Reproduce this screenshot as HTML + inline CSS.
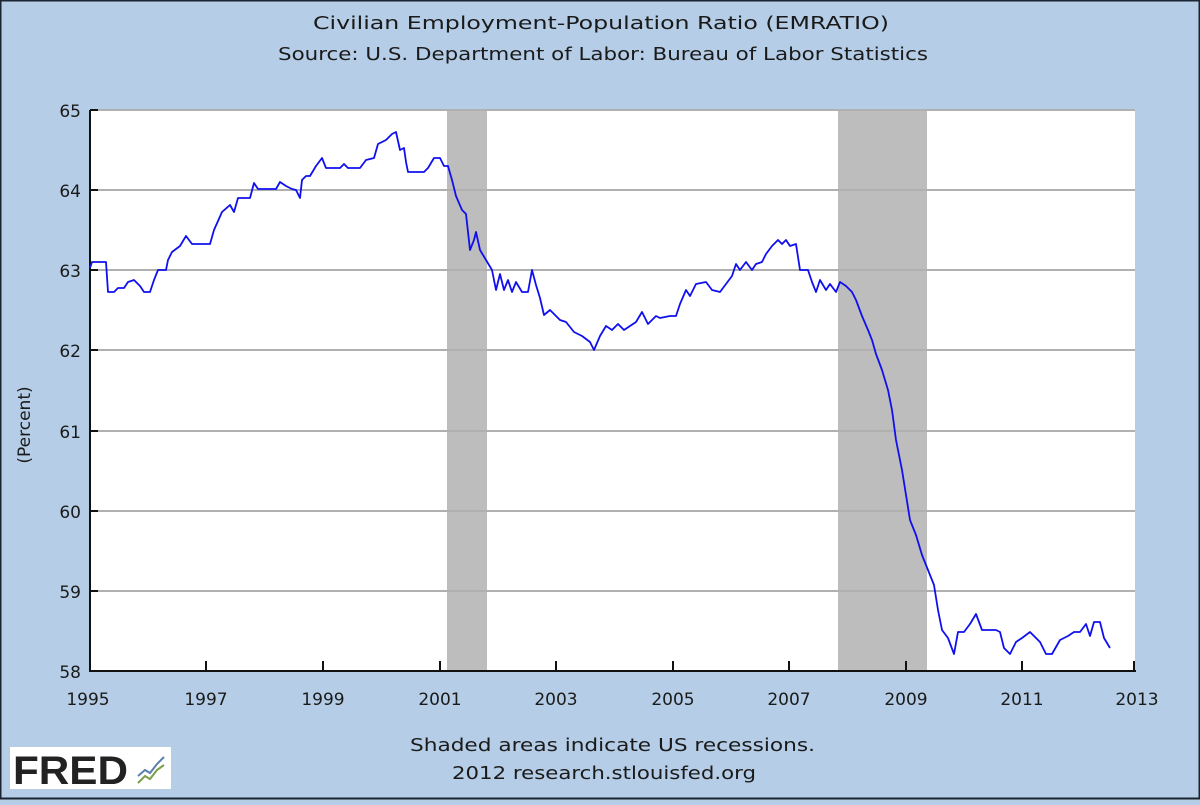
<!DOCTYPE html>
<html><head><style>
html,body{margin:0;padding:0}
body{width:1200px;height:800px;background:#b5cde6;overflow:hidden}
</style></head><body>
<svg width="1200" height="800" xmlns="http://www.w3.org/2000/svg" font-family="DejaVu Sans, sans-serif">
<rect x="0" y="0" width="1200" height="800" fill="#b5cde6"/>
<rect x="0.5" y="0.5" width="1199" height="798" fill="none" stroke="#1a2530" stroke-width="2"/>
<text x="313" y="29" font-size="18" textLength="576" lengthAdjust="spacingAndGlyphs" fill="#1a1a1a">Civilian Employment-Population Ratio (EMRATIO)</text>
<text x="278" y="60" font-size="18" textLength="650" lengthAdjust="spacingAndGlyphs" fill="#1a1a1a">Source: U.S. Department of Labor: Bureau of Labor Statistics</text>
<rect x="90" y="110" width="1045" height="561" fill="#ffffff"/>
<rect x="447" y="110" width="40" height="561" fill="#bdbdbd"/>
<rect x="838" y="110" width="89" height="561" fill="#bdbdbd"/>
<g stroke="#b0b0b0" stroke-width="2">
<line x1="90" y1="110" x2="1135" y2="110"/>
<line x1="90" y1="190" x2="1135" y2="190"/>
<line x1="90" y1="270" x2="1135" y2="270"/>
<line x1="90" y1="350" x2="1135" y2="350"/>
<line x1="90" y1="431" x2="1135" y2="431"/>
<line x1="90" y1="511" x2="1135" y2="511"/>
<line x1="90" y1="591" x2="1135" y2="591"/>
</g>
<g stroke="#111" stroke-width="2">
<line x1="90" y1="110" x2="90" y2="672"/>
<line x1="89" y1="671" x2="1136" y2="671"/>
<line x1="90" y1="110" x2="98" y2="110"/>
<line x1="90" y1="190" x2="98" y2="190"/>
<line x1="90" y1="270" x2="98" y2="270"/>
<line x1="90" y1="350" x2="98" y2="350"/>
<line x1="90" y1="431" x2="98" y2="431"/>
<line x1="90" y1="511" x2="98" y2="511"/>
<line x1="90" y1="591" x2="98" y2="591"/>
<line x1="206" y1="661" x2="206" y2="671"/>
<line x1="323" y1="661" x2="323" y2="671"/>
<line x1="440" y1="661" x2="440" y2="671"/>
<line x1="556" y1="661" x2="556" y2="671"/>
<line x1="673" y1="661" x2="673" y2="671"/>
<line x1="789" y1="661" x2="789" y2="671"/>
<line x1="906" y1="661" x2="906" y2="671"/>
<line x1="1022" y1="661" x2="1022" y2="671"/>
<line x1="1134" y1="661" x2="1134" y2="671"/>
</g>
<g font-size="17" fill="#1a1a1a" text-anchor="end">
<text x="81" y="117">65</text><text x="81" y="197">64</text><text x="81" y="277">63</text>
<text x="81" y="357">62</text><text x="81" y="438">61</text><text x="81" y="518">60</text>
<text x="81" y="598">59</text><text x="81" y="678">58</text>
</g>
<g font-size="17" fill="#1a1a1a" text-anchor="middle">
<text x="88" y="705">1995</text><text x="206" y="705">1997</text><text x="323" y="705">1999</text>
<text x="440" y="705">2001</text><text x="556" y="705">2003</text><text x="673" y="705">2005</text>
<text x="789" y="705">2007</text><text x="906" y="705">2009</text><text x="1022" y="705">2011</text>
<text x="1137" y="705">2013</text>
</g>
<text transform="translate(30,425) rotate(-90)" font-size="17" text-anchor="middle" fill="#1a1a1a">(Percent)</text>
<polyline fill="none" stroke="#1010ee" stroke-width="1.8" stroke-linejoin="round" points="90,268 92,262 106,262 108,292 114,292 118,288 124,288 128,282 134,280 140,286 144,292 150,292 154,280 158,270 166,270 168,260 172,252 180,246 186,236 192,244 210,244 214,230 222,212 230,205 234,212 238,198 250,198 254,183 258,189 276,189 280,182 286,186 292,189 296,190 300,198 302,180 306,176 310,176 316,166 322,158 326,168 340,168 344,164 348,168 360,168 366,160 374,158 378,144 386,140 392,134 396,132 400,150 404,148 406,162 408,172 424,172 428,168 434,158 440,158 444,166 448,166 452,180 456,196 462,210 466,214 470,250 474,240 476,232 480,250 486,260 492,270 496,290 500,274 504,290 508,280 512,292 516,282 522,292 528,292 532,270 536,285 540,298 544,315 550,310 560,320 566,322 574,332 582,336 590,342 594,350 600,336 606,326 612,330 618,324 624,330 630,326 636,322 642,312 648,324 656,316 660,318 670,316 676,316 680,304 686,290 690,296 696,284 706,282 712,290 720,292 726,284 732,276 736,264 740,270 746,262 752,270 756,264 762,262 766,254 772,246 778,240 782,244 786,240 790,246 796,244 800,270 808,270 812,282 816,292 820,280 826,290 830,284 836,292 840,282 846,286 852,292 856,300 862,316 868,330 872,340 876,354 882,370 888,390 892,410 896,440 902,470 906,495 910,520 916,535 922,555 928,570 934,585 938,610 942,630 948,638 954,654 958,632 964,632 970,624 976,614 982,630 988,630 996,630 1000,632 1004,648 1010,654 1016,642 1022,638 1030,632 1036,638 1040,642 1046,654 1052,654 1060,640 1068,636 1074,632 1080,632 1086,624 1090,636 1094,622 1100,622 1104,638 1110,648"/>
<rect x="10" y="747" width="161" height="42" fill="#ffffff"/>
<text x="13" y="784" font-family="Liberation Sans, sans-serif" font-size="40" font-weight="bold" fill="#222" textLength="115" lengthAdjust="spacingAndGlyphs">FRED</text>
<polyline points="138,783 145,776 150,779 157,770 164,765" fill="none" stroke="#7aa04a" stroke-width="2"/>
<polyline points="138,776 145,770 150,773 157,764 164,757" fill="none" stroke="#5a7fb0" stroke-width="2"/>
<text x="410" y="751" font-size="18" textLength="405" lengthAdjust="spacingAndGlyphs" fill="#1a1a1a">Shaded areas indicate US recessions.</text>
<text x="452" y="779" font-size="18" textLength="304" lengthAdjust="spacingAndGlyphs" fill="#1a1a1a">2012 research.stlouisfed.org</text>
</svg>
</body></html>
